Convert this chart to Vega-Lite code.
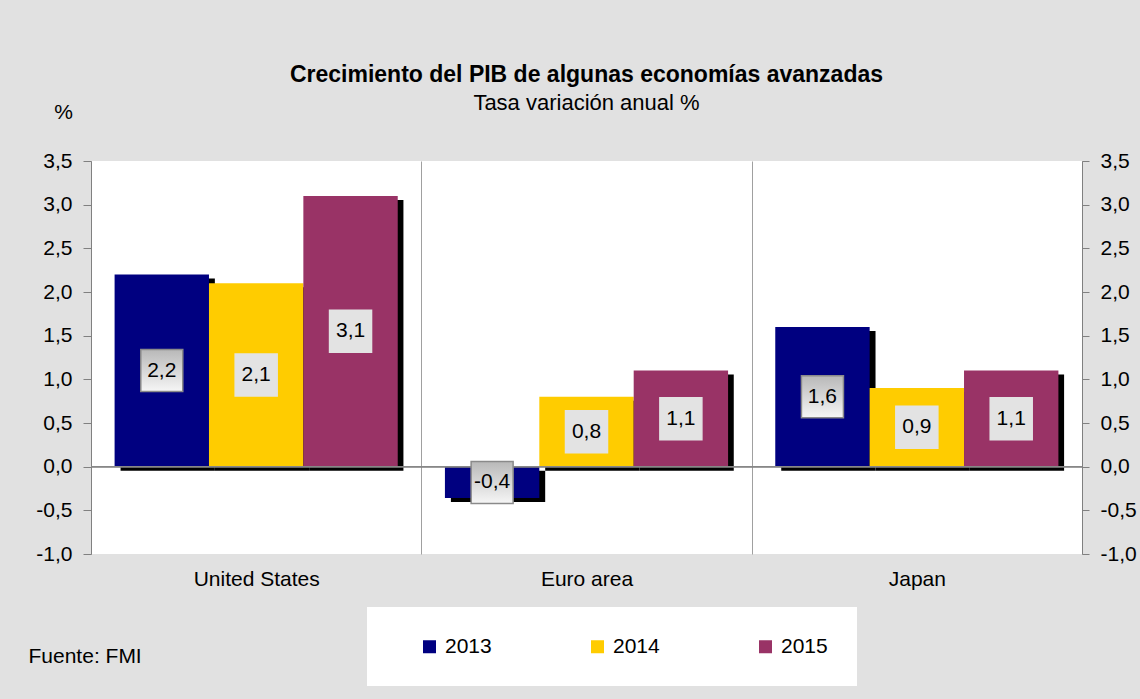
{
  "$schema": "https://vega.github.io/schema/vega-lite/v6.json",
  "width": 991,
  "height": 393,
  "autosize": {"type": "none"},
  "padding": {"left": 91, "top": 161, "right": 58, "bottom": 145},
  "background": "#e1e1e1",
  "title": {
    "text": "Crecimiento del PIB de algunas economías avanzadas",
    "subtitle": "Tasa variación anual %",
    "font": "Liberation Sans",
    "subtitleFont": "Liberation Sans",
    "fontSize": 23,
    "subtitleFontSize": 22,
    "fontWeight": "bold",
    "color": "#000000",
    "subtitleColor": "#000000",
    "anchor": "middle",
    "offset": -13,
    "subtitlePadding": 6
  },
  "config": {
    "locale": {"number": {"decimal": ",", "thousands": ".", "grouping": [3], "currency": ["", " €"], "minus": "-"}},
    "view": {"stroke": null, "fill": "white"},
    "font": "Liberation Sans"
  },
  "data": {
    "values": [
      {"country": "United States", "year": "2013", "value": 2.2},
      {"country": "United States", "year": "2014", "value": 2.1},
      {"country": "United States", "year": "2015", "value": 3.1},
      {"country": "Euro area", "year": "2013", "value": -0.36},
      {"country": "Euro area", "year": "2014", "value": 0.8},
      {"country": "Euro area", "year": "2015", "value": 1.1},
      {"country": "Japan", "year": "2013", "value": 1.6},
      {"country": "Japan", "year": "2014", "value": 0.9},
      {"country": "Japan", "year": "2015", "value": 1.1}
    ]
  },
  "resolve": {"axis": {"y": "independent"}, "scale": {"xOffset": "independent"}},
  "layer": [
    {
      "mark": {"type": "bar", "color": "#000000", "yOffset": 4, "y2Offset": 2},
      "encoding": {
        "x": {
          "field": "country", "type": "nominal", "sort": null,
          "scale": {"paddingInner": 0, "paddingOuter": 0},
          "axis": {
            "title": "Fuente: FMI",
            "titleX": -63, "titleY": 102,
            "titleAlign": "left", "titleBaseline": "middle",
            "titleFontSize": 21, "titleFontWeight": "normal", "titleColor": "#000000",
            "labelFontSize": 21, "labelColor": "#000000", "labelAngle": 0, "labelPadding": 14,
            "ticks": false, "domain": false,
            "grid": true, "gridColor": "#a0a0a0", "tickBand": "extent"
          }
        },
        "xOffset": {"field": "year", "type": "nominal", "scale": {"type": "band", "paddingInner": 0, "paddingOuter": 0.25, "range": [6, 336]}},
        "y": {
          "field": "value", "type": "quantitative",
          "scale": {"domain": [-1, 3.5], "nice": false, "zero": false},
          "axis": {
            "orient": "right",
            "values": [-1, -0.5, 0, 0.5, 1, 1.5, 2, 2.5, 3, 3.5],
            "format": ".1f", "title": null, "grid": false,
            "domainColor": "#808080", "tickColor": "#808080", "tickSize": 7,
            "labelPadding": 11, "labelFontSize": 21, "labelColor": "#000000"
          }
        }
      }
    },
    {
      "mark": {"type": "bar"},
      "encoding": {
        "x": {"field": "country", "type": "nominal", "sort": null},
        "xOffset": {"field": "year", "type": "nominal", "scale": {"type": "band", "paddingInner": 0, "paddingOuter": 0.25}},
        "y": {
          "field": "value", "type": "quantitative",
          "axis": {
            "orient": "left",
            "values": [-1, -0.5, 0, 0.5, 1, 1.5, 2, 2.5, 3, 3.5],
            "format": ".1f", "grid": false,
            "title": "%", "titleAngle": 0, "titleX": -28, "titleY": -49,
            "titleAlign": "center", "titleBaseline": "middle",
            "titleFontSize": 21, "titleFontWeight": "normal", "titleColor": "#000000",
            "domainColor": "#808080", "tickColor": "#808080", "tickSize": 8,
            "labelPadding": 11, "labelFontSize": 21, "labelColor": "#000000"
          }
        },
        "color": {
          "field": "year", "type": "nominal",
          "scale": {"domain": ["2013", "2014", "2015"], "range": ["#000080", "#FFCC00", "#993366"]},
          "legend": {
            "title": null, "orient": "none", "legendX": 276, "legendY": 446,
            "direction": "horizontal", "fillColor": "white", "padding": 29,
            "symbolType": "square", "symbolSize": 169, "symbolStrokeWidth": 0,
            "symbolOpacity": 1,
            "labelFontSize": 21, "labelColor": "#000000", "labelOffset": 5,
            "columnPadding": 72, "symbolOffset": 23
          }
        }
      }
    },
    {
      "mark": {"type": "rule", "color": "#888888", "strokeWidth": 1},
      "encoding": {"y": {"datum": 0, "type": "quantitative", "axis": null}}
    },
    {
      "transform": [{"calculate": "datum.value / 2", "as": "mid"}],
      "mark": {"type": "point", "shape": "square", "size": 1764, "opacity": 1, "strokeWidth": 1.5},
      "encoding": {
        "x": {"field": "country", "type": "nominal", "sort": null},
        "xOffset": {"field": "year", "type": "nominal", "scale": {"type": "band", "paddingInner": 0, "paddingOuter": 0.25}},
        "y": {"field": "mid", "type": "quantitative", "axis": null},
        "fill": {
          "condition": {
            "test": "datum.year == '2013'",
            "value": {"gradient": "linear", "x1": 0, "y1": 0, "x2": 0, "y2": 1,
              "stops": [{"offset": 0, "color": "#b8b8b8"}, {"offset": 1, "color": "#f6f6f6"}]}
          },
          "value": "#e3e3e3"
        },
        "stroke": {
          "condition": {"test": "datum.year == '2013'", "value": "#8a8a8a"},
          "value": "#e3e3e3"
        }
      }
    },
    {
      "transform": [{"calculate": "datum.value / 2", "as": "mid"}],
      "mark": {"type": "text", "fontSize": 21, "color": "#000000", "baseline": "middle", "align": "center"},
      "encoding": {
        "x": {"field": "country", "type": "nominal", "sort": null},
        "xOffset": {"field": "year", "type": "nominal", "scale": {"type": "band", "paddingInner": 0, "paddingOuter": 0.25}},
        "y": {"field": "mid", "type": "quantitative", "axis": null},
        "text": {"field": "value", "type": "quantitative", "format": ".1f"}
      }
    }
  ]
}
